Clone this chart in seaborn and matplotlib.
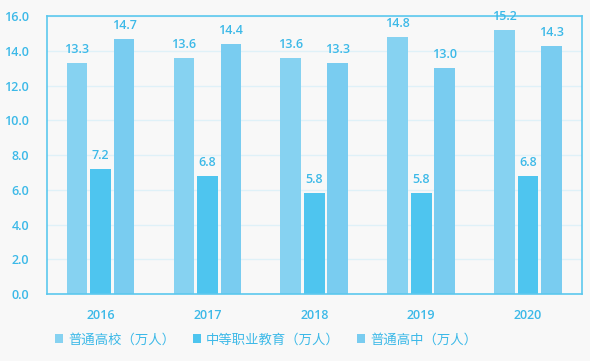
import pandas as pd
import matplotlib.pyplot as plt
import seaborn as sns

years = ['2016', '2017', '2018', '2019', '2020']
series = ['普通高校（万人）', '中等职业教育（万人）', '普通高中（万人）']
gaoxiao = [13.3, 13.6, 13.6, 14.8, 15.2]
zhongzhi = [7.2, 6.8, 5.8, 5.8, 6.8]
gaozhong = [14.7, 14.4, 13.3, 13.0, 14.3]

rows = []
for name, vals in zip(series, [gaoxiao, zhongzhi, gaozhong]):
    for y, v in zip(years, vals):
        rows.append({'year': y, 'series': name, 'value': v})
df = pd.DataFrame(rows)

sns.set_theme(style='white')
plt.rcParams['font.family'] = ['Open Sans', 'Noto Sans CJK SC', 'DejaVu Sans']

txt = '#3cb9e8'
colors = ['#86d2f1', '#4ec5ef', '#79ccf0']

fig = plt.figure(figsize=(5.9, 3.61), dpi=100, facecolor='#f8f8f8')
ax = fig.add_axes([0.0797, 0.1856, 0.906, 0.770])
ax.set_facecolor('#f8f8f8')

sns.barplot(data=df, x='year', y='value', hue='series', palette=colors, saturation=1,
            width=0.66, gap=0.12, linewidth=0, edgecolor='none', ax=ax, legend=True)

for cont in ax.containers:
    ax.bar_label(cont, fmt='%.1f', padding=5, color=txt, fontsize=9, fontweight='semibold')

ax.set_xlim(-0.5, 4.5)
ax.set_ylim(0, 16)
ax.set_yticks(range(0, 17, 2))
ax.set_yticklabels([f'{t:.1f}' for t in range(0, 17, 2)])
ax.yaxis.grid(True, color='#dff1f8', linewidth=1)
ax.set_axisbelow(True)
ax.set_xlabel('')
ax.set_ylabel('')
ax.tick_params(axis='both', colors=txt, labelsize=9, length=0)
ax.tick_params(axis='x', pad=11)
ax.tick_params(axis='y', pad=13)
for lbl in ax.get_xticklabels() + ax.get_yticklabels():
    lbl.set_fontweight('semibold')
for s in ax.spines.values():
    s.set_color('#5cc8ee')
    s.set_linewidth(1.2)

leg = ax.legend(loc='center', bbox_to_anchor=(0.41, -0.165), ncol=3, frameon=False,
                handlelength=0.6, handleheight=0.6, handletextpad=0.4, columnspacing=1.3,
                fontsize=9.6)
for t in leg.get_texts():
    t.set_color(txt)

plt.savefig('out.png', dpi=100, facecolor=fig.get_facecolor())
